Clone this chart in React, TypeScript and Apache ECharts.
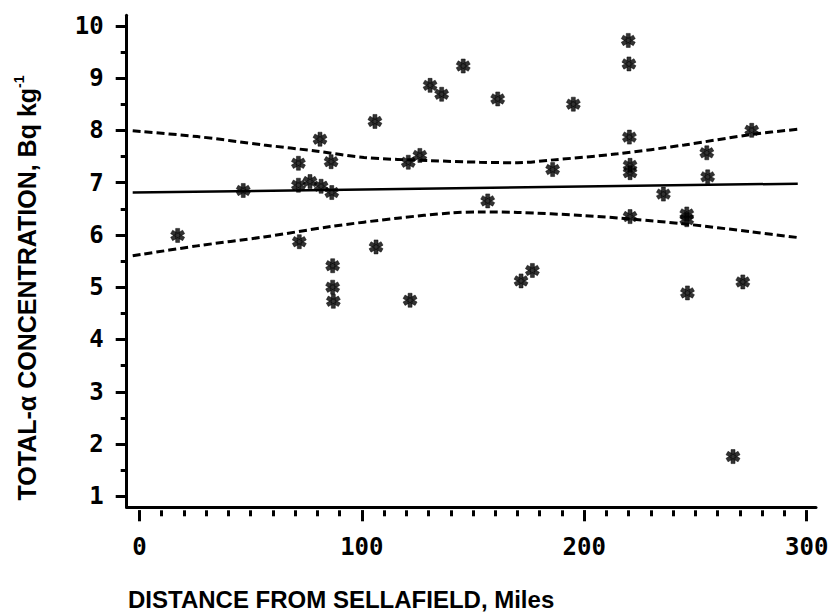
import React, { useEffect, useRef } from "react";
import * as echarts from "echarts";

// Data
const points: [number, number][] = [
  [17.2, 5.99], [46.7, 6.85], [71.5, 7.37], [71.5, 6.95], [76.7, 7.02],
  [81.7, 6.93], [81.2, 7.83], [86.2, 7.40], [86.5, 6.81], [71.9, 5.87],
  [86.9, 5.41], [86.9, 5.0], [87.2, 4.73], [106.4, 5.77], [105.9, 8.17],
  [121.7, 4.75], [120.9, 7.39], [126.1, 7.52], [130.7, 8.86], [135.9, 8.69],
  [145.6, 9.23], [161.1, 8.6], [156.6, 6.65], [195.1, 8.5], [185.8, 7.25],
  [219.8, 9.72], [220.1, 9.27], [220.3, 7.87], [220.6, 7.33], [220.6, 7.19],
  [220.6, 6.35], [171.6, 5.12], [176.7, 5.32], [235.6, 6.78], [246.1, 6.4],
  [246.1, 6.29], [246.4, 4.89], [255.1, 7.57], [255.5, 7.11], [275.3, 8.0],
  [271.3, 5.1], [266.9, 1.76],
];
const fitLine: [number, number][] = [[-3, 6.81], [296, 6.98]];
const upperBand: [number, number][] = [
  [-3, 7.99], [26, 7.88], [56, 7.72], [80, 7.6], [101, 7.48], [131, 7.42],
  [153, 7.39], [170, 7.38], [185, 7.43], [215, 7.55], [245, 7.72], [275, 7.92], [296, 8.02],
];
const lowerBand: [number, number][] = [
  [-3, 5.6], [26, 5.79], [56, 5.96], [86, 6.16], [116, 6.32], [140, 6.42],
  [153, 6.44], [170, 6.43], [200, 6.37], [222, 6.3], [245, 6.21], [275, 6.06], [296, 5.95],
];
const xLabels = [0, 100, 200, 300];
const xMinorTicks = [0, 10, 20, 30, 40, 50, 60, 70, 80, 90, 100, 110, 120, 130, 140, 150, 160, 170, 180, 190, 200, 210, 220, 230, 240, 250, 260, 270, 280, 290, 300];
const yLabels = [1, 2, 3, 4, 5, 6, 7, 8, 9, 10];
const yMinorTicks = [1.5, 2.5, 3.5, 4.5, 5.5, 6.5, 7.5, 8.5, 9.5];
const xTitle = "DISTANCE FROM SELLAFIELD, Miles";
const yTitleMain = "TOTAL-\u03b1 CONCENTRATION, Bq kg";
const yTitleSup = "-1";

const X_MIN = -5.7;
const X_MAX = 304.2;
const Y_MIN = 0.79;
const Y_MAX = 10.2;

const ASTERISK =
  "path://M-2,7L2,7L2,-7L-2,-7Z" +
  "M5.062,5.232L7.062,1.768L-5.062,-5.232L-7.062,-1.768Z" +
  "M-7.062,1.768L-5.062,5.232L7.062,-1.768L5.062,-5.232Z";

const tickFont = {
  fontFamily: "DejaVu Sans Mono",
  fontWeight: "bold" as const,
  fontSize: 24,
  color: "#000",
};

export default function App() {
  const ref = useRef<HTMLDivElement>(null);
  useEffect(() => {
    if (!ref.current) return;
    const chart = echarts.init(ref.current, null, { renderer: "svg" });
    const hiddenLine = { show: false, onZero: false };
    chart.setOption({
      animation: false,
      backgroundColor: "#fff",
      grid: { left: 126.7, right: 17, top: 15.3, bottom: 104.7, containLabel: false },
      xAxis: [
        {
          type: "value", min: X_MIN, max: X_MAX, position: "bottom",
          axisLine: { show: true, onZero: false, lineStyle: { color: "#000", width: 3 } },
          axisTick: { show: false },
          splitLine: { show: false },
          axisLabel: { ...tickFont, margin: 28, customValues: xLabels },
        },
        {
          type: "value", min: X_MIN, max: X_MAX, position: "bottom", offset: 3,
          axisLine: hiddenLine,
          axisTick: { show: true, length: 11, customValues: xLabels, lineStyle: { color: "#000", width: 3 } },
          axisLabel: { show: false },
          splitLine: { show: false },
        },
        {
          type: "value", min: X_MIN, max: X_MAX, position: "bottom", offset: 3,
          axisLine: hiddenLine,
          axisTick: { show: true, length: 6, customValues: xMinorTicks, lineStyle: { color: "#000", width: 3 } },
          axisLabel: { show: false },
          splitLine: { show: false },
        },
      ],
      yAxis: [
        {
          type: "value", min: Y_MIN, max: Y_MAX, position: "left",
          axisLine: { show: true, onZero: false, lineStyle: { color: "#000", width: 3 } },
          axisTick: { show: true, length: 11, customValues: yLabels, lineStyle: { color: "#000", width: 3 } },
          splitLine: { show: false },
          axisLabel: { ...tickFont, margin: 23, customValues: yLabels },
        },
        {
          type: "value", min: Y_MIN, max: Y_MAX, position: "left",
          axisLine: hiddenLine,
          axisTick: { show: true, length: 6, customValues: yMinorTicks, lineStyle: { color: "#000", width: 3 } },
          axisLabel: { show: false },
          splitLine: { show: false },
        },
      ],
      series: [
        {
          type: "line", data: fitLine, showSymbol: false, symbol: "none",
          lineStyle: { color: "#000", width: 2.5 }, z: 2,
        },
        {
          type: "line", data: upperBand, showSymbol: false, symbol: "none", smooth: 0.3,
          lineStyle: { color: "#000", width: 3, type: [8, 4] }, z: 2,
        },
        {
          type: "line", data: lowerBand, showSymbol: false, symbol: "none", smooth: 0.3,
          lineStyle: { color: "#000", width: 3, type: [8, 4] }, z: 2,
        },
        {
          type: "scatter", data: points, symbol: ASTERISK, symbolSize: 14,
          itemStyle: { color: "#000", borderColor: "#000", borderWidth: 0.6 }, z: 5,
        },
      ],
      graphic: [
        {
          type: "text", left: 128, top: 587,
          style: {
            text: xTitle, fill: "#000",
            font: "bold 24px 'Liberation Sans', Arial, sans-serif",
          },
        },
        {
          type: "text", x: 27, y: 288, rotation: Math.PI / 2,
          style: {
            text: `{a|${yTitleMain}}{s|${yTitleSup}}`,
            align: "center", verticalAlign: "middle", fill: "#000",
            rich: {
              a: { fontFamily: "Liberation Sans", fontWeight: "bold", fontSize: 25, lineHeight: 30, fill: "#000" },
              s: { fontFamily: "Liberation Sans", fontWeight: "bold", fontSize: 14, lineHeight: 14, verticalAlign: "top", fill: "#000" },
            },
          },
        },
      ],
    });
    return () => chart.dispose();
  }, []);
  return (
    <div
      ref={ref}
      style={{ position: "fixed", left: 0, top: 0, width: 833, height: 612, background: "#fff" }}
    />
  );
}
